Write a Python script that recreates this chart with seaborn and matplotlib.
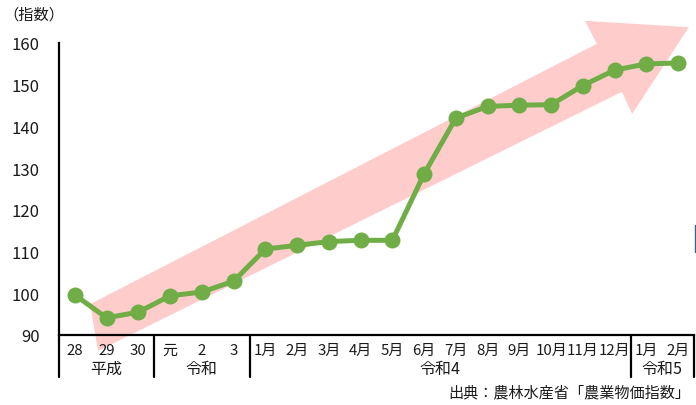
import matplotlib
matplotlib.use("Agg")
import matplotlib.pyplot as plt
from matplotlib.patches import Polygon
from matplotlib.lines import Line2D
from matplotlib.transforms import blended_transform_factory
import seaborn as sns
import pandas as pd

# Period labels and price index values
periods = ["28", "29", "30", "元", "2", "3",
           "1月", "2月", "3月", "4月", "5月", "6月", "7月", "8月", "9月",
           "10月", "11月", "12月", "1月", "2月"]
index_values = [99.6, 94.1, 95.5, 99.4, 100.3, 102.9,
                110.6, 111.5, 112.4, 112.7, 112.7, 128.6, 142.0, 144.8,
                145.1, 145.2, 149.8, 153.5, 155.0, 155.2]
# Era groups: label and how many periods each covers
era_labels = ["平成", "令和", "令和4", "令和5"]
era_sizes = [3, 3, 12, 2]
y_ticks = [90, 100, 110, 120, 130, 140, 150, 160]

df = pd.DataFrame({"pos": range(len(periods)), "value": index_values})

sns.set_theme(style="white")
plt.rcParams["font.family"] = ["Noto Sans CJK JP", "DejaVu Sans"]

text_color = "#1a1a1a"

fig = plt.figure(figsize=(6.96, 4.06), dpi=100)
ax = fig.add_axes([59 / 696, 1 - 336 / 406, 635 / 696, 292 / 406])

# Upward trend arrow behind the line
arrow_shape = [(0.48, 97.4), (16.44, 159.8), (16.07, 165.3), (19.34, 163.8),
               (17.55, 143.0), (17.23, 148.3), (0.73, 86.2)]
ax.add_patch(Polygon(arrow_shape, closed=True, facecolor="#FFCCCC",
                     edgecolor="none", zorder=1, clip_on=False))

sns.lineplot(data=df, x="pos", y="value", ax=ax, color="#70AD47",
             linewidth=3.6, marker="o", markersize=11.5,
             markeredgewidth=0, zorder=3)

ax.set_xlim(-0.5, len(periods) - 0.5)
ax.set_ylim(90, 160)
ax.set_yticks(y_ticks)
ax.set_yticklabels([str(t) for t in y_ticks], fontsize=12)
ax.tick_params(axis="y", length=0, pad=14, colors=text_color)
ax.set_xticks([])
ax.set_xlabel("")
ax.set_ylabel("")

for side in ["top", "right"]:
    ax.spines[side].set_visible(False)
for side in ["left", "bottom"]:
    ax.spines[side].set_color("black")
    ax.spines[side].set_linewidth(1.6)

trans = blended_transform_factory(ax.transData, ax.transAxes)

# Period labels under the axis
for i, lab in enumerate(periods):
    ax.text(i, -0.052, lab, transform=trans, ha="center", va="center",
            fontsize=10.8, color=text_color)

# Era labels and separators
start = 0
sep_bottom = -42 / 292
ax.add_line(Line2D([-0.5, -0.5], [0, sep_bottom], transform=trans,
                   color="black", linewidth=1.6, clip_on=False))
for lab, n in zip(era_labels, era_sizes):
    end = start + n
    ax.text((start + end - 1) / 2, -0.115, lab, transform=trans,
            ha="center", va="center", fontsize=11.5, color=text_color)
    ax.add_line(Line2D([end - 0.5, end - 0.5], [0, sep_bottom], transform=trans,
                       color="black", linewidth=1.6, clip_on=False))
    start = end

fig.text(3 / 696, 1 - 15 / 406, "（指数）", ha="left", va="center",
         fontsize=11, color=text_color)
fig.text(690 / 696, 1 - 393 / 406, "出典：農林水産省「農業物価指数」",
         ha="right", va="center", fontsize=10.9, color=text_color)

fig.add_artist(Line2D([695 / 696, 695 / 696], [1 - 226 / 406, 1 - 253 / 406],
                      transform=fig.transFigure, color="#3F5F8F", linewidth=1))

fig.savefig("out.png", dpi=100)
